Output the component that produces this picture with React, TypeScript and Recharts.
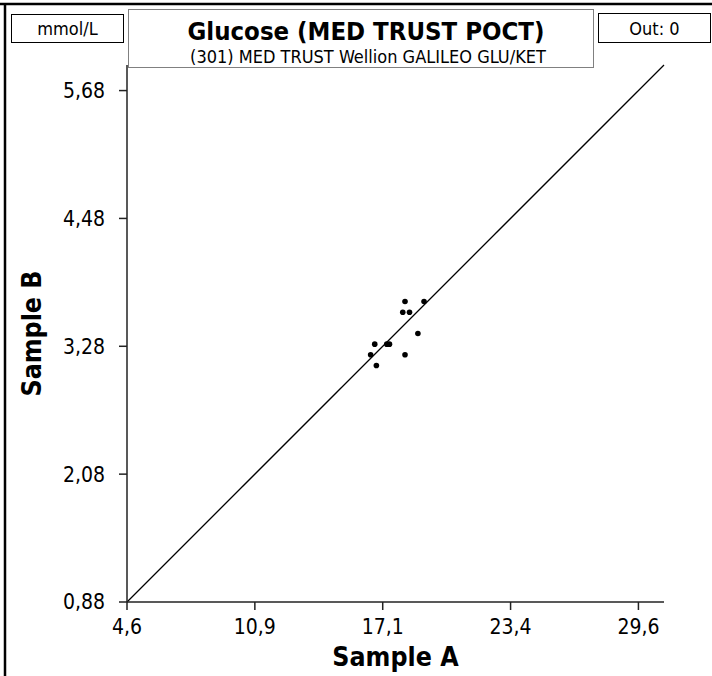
import React from 'react';
import { ScatterChart, Scatter, XAxis, YAxis, ReferenceLine } from 'recharts';

// Sample A / Sample B pairs (mmol/L)
const sampleA = [18.19, 19.12, 18.08, 18.41, 18.82, 16.71, 17.3, 17.43, 16.51, 18.19, 16.79];
const sampleB = [3.7, 3.7, 3.6, 3.6, 3.4, 3.3, 3.3, 3.3, 3.2, 3.2, 3.1];

const xTicks = [4.6, 10.85, 17.1, 23.35, 29.6];
const xTickLabels = ['4,6', '10,9', '17,1', '23,4', '29,6'];
const yTicks = [0.88, 2.08, 3.28, 4.48, 5.68];
const yTickLabels = ['0,88', '2,08', '3,28', '4,48', '5,68'];
const xDomain = [4.6, 30.85];
const yDomain = [0.88, 5.92];
const identityLine = [
  { x: 4.6, y: 0.88 },
  { x: 30.85, y: 5.92 },
];

const FONT = '"DejaVu Sans Condensed", "DejaVu Sans", sans-serif';

const points = sampleA.map((a, i) => ({ a, b: sampleB[i] }));

const Dot = (props: any) => <circle cx={props.cx} cy={props.cy} r={2.8} fill="#000" />;

export default function App() {
  return (
    <div style={{ position: 'relative', width: 712, height: 676, background: '#fff' }}>
      <style>{'body{margin:0}'}</style>
      <ScatterChart width={712} height={676} margin={{ top: 65, right: 48, bottom: 0, left: 0 }}>
        <XAxis
          type="number"
          dataKey="a"
          domain={xDomain}
          ticks={xTicks}
          tickFormatter={(v: number) => xTickLabels[xTicks.indexOf(v)]}
          allowDataOverflow
          height={74}
          tickSize={8}
          tickMargin={9}
          stroke="#222"
          strokeWidth={1.5}
          fontSize={21}
          fontFamily={FONT}
          tick={{ fill: '#000', fontSize: 21, fontFamily: FONT }}
          label={{
            value: 'Sample A',
            position: 'insideBottom',
            offset: 10,
            style: { fontFamily: FONT, fontSize: 26.5, fontWeight: 'bold', fill: '#000' },
          }}
        />
        <YAxis
          type="number"
          dataKey="b"
          domain={yDomain}
          ticks={yTicks}
          tickFormatter={(v: number) => yTickLabels[yTicks.indexOf(v)]}
          allowDataOverflow
          width={127}
          tickSize={8}
          tickMargin={14}
          stroke="#222"
          strokeWidth={1.5}
          fontSize={21}
          fontFamily={FONT}
          tick={{ fill: '#000', fontSize: 21, fontFamily: FONT }}
          label={{
            value: 'Sample B',
            angle: -90,
            position: 'insideLeft',
            offset: 32,
            style: { fontFamily: FONT, fontSize: 26.5, fontWeight: 'bold', fill: '#000', textAnchor: 'middle' },
          }}
        />
        <ReferenceLine segment={identityLine} stroke="#000" strokeWidth={1.3} ifOverflow="visible" />
        <Scatter data={points} shape={Dot} isAnimationActive={false} />
      </ScatterChart>
      <svg
        width={712}
        height={676}
        style={{ position: 'absolute', left: 0, top: 0, pointerEvents: 'none' }}
        fontFamily={FONT}
      >
        <line x1={0} y1={4} x2={712} y2={4} stroke="#000" strokeWidth={2.5} />
        <line x1={5} y1={3} x2={5} y2={676} stroke="#000" strokeWidth={2.5} />
        <rect x={11.5} y={14.5} width={112} height={28} fill="#fff" stroke="#000" strokeWidth={1} />
        <text x={67.5} y={35} textAnchor="middle" fontSize={18} fill="#000">mmol/L</text>
        <rect x={128.5} y={9.5} width={465} height={58} fill="#fff" stroke="#808080" strokeWidth={1} />
        <text x={366} y={40} textAnchor="middle" fontSize={25.5} fontWeight="bold" fill="#000">
          Glucose (MED TRUST POCT)
        </text>
        <text x={368} y={63} textAnchor="middle" fontSize={18} fill="#000">
          (301) MED TRUST Wellion GALILEO GLU/KET
        </text>
        <rect x={598.5} y={13.5} width={112} height={29} fill="#fff" stroke="#000" strokeWidth={1} />
        <text x={654.5} y={35} textAnchor="middle" fontSize={18} fill="#000">Out: 0</text>
      </svg>
    </div>
  );
}
